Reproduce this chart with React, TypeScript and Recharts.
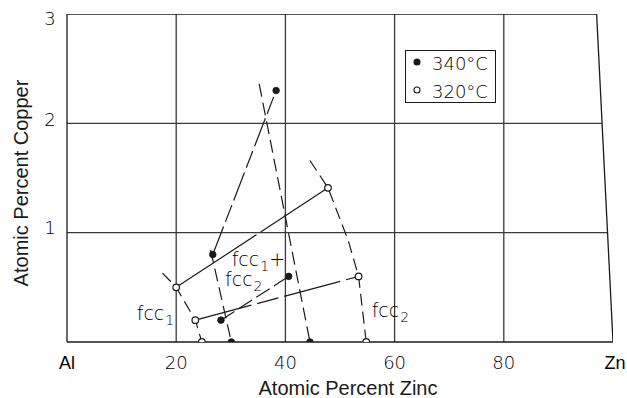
import React from 'react';
import {
  ComposedChart,
  Line,
  Scatter,
  XAxis,
  YAxis,
  ReferenceLine,
  ReferenceDot,
  Legend,
} from 'recharts';

// ---------- data ----------
const xTicks = [0, 20, 40, 60, 80, 100];
const xTickLabels = ['Al', '20', '40', '60', '80', 'Zn'];
const yTicks = [1, 2, 3];
const yTickLabels = ['1', '2', '3'];

const xGrid = [20, 40, 60, 80];
const yGridSegments = [
  { y: 1, xEnd: 99 },
  { y: 2, xEnd: 98 },
];
const topBorder = [{ x: 0, y: 3 }, { x: 97, y: 3 }];
const znBoundary = [{ x: 97, y: 3 }, { x: 100, y: 0 }];

// 340 C compositions (filled)
const filledPoints = [
  { x: 38.3, y: 2.3 },
  { x: 26.7, y: 0.8 },
  { x: 40.6, y: 0.6 },
  { x: 28.2, y: 0.2 },
  { x: 30.1, y: 0 },
  { x: 44.5, y: 0 },
];
// 320 C compositions (open)
const openPoints = [
  { x: 47.8, y: 1.41 },
  { x: 20.0, y: 0.5 },
  { x: 53.4, y: 0.6 },
  { x: 23.5, y: 0.2 },
  { x: 24.7, y: 0 },
  { x: 54.8, y: 0 },
];

// tie lines
const tieFilledUpper = [{ x: 26.7, y: 0.8 }, { x: 38.3, y: 2.3 }];
const tieFilledLower = [{ x: 28.2, y: 0.2 }, { x: 40.6, y: 0.6 }];
const tieOpenUpper = [{ x: 20.0, y: 0.5 }, { x: 47.8, y: 1.41 }];
const tieOpenLower = [{ x: 23.5, y: 0.2 }, { x: 53.4, y: 0.6 }];

// phase boundaries
const fcc1Filled = [{ x: 26.3, y: 0.84 }, { x: 30.1, y: 0 }];
const fcc2Filled = [{ x: 35.2, y: 2.36 }, { x: 44.5, y: 0 }];
const fcc1Open = [
  { x: 17.5, y: 0.63 },
  { x: 20.0, y: 0.5 },
  { x: 23.5, y: 0.2 },
  { x: 24.7, y: 0 },
];
const fcc2Open = [
  { x: 44.5, y: 1.66 },
  { x: 47.8, y: 1.41 },
  { x: 51.5, y: 0.93 },
  { x: 53.4, y: 0.6 },
  { x: 54.8, y: 0 },
];

const annotations = [
  { x: 30.16, y: 0.695, main: 'fcc', sub: '1', tail: '+' },
  { x: 28.94, y: 0.512, main: 'fcc', sub: '2', tail: '' },
  { x: 12.77, y: 0.201, main: 'fcc', sub: '1', tail: '' },
  { x: 55.8, y: 0.226, main: 'fcc', sub: '2', tail: '' },
];

const legendItems = [
  { label: '340°C', filled: true },
  { label: '320°C', filled: false },
];

// ---------- styles ----------
const W = 627;
const H = 398;
const INK = '#000';
const GRID = '#3a3a3a';
const LIGHT_FONT = '"DejaVu Sans", sans-serif';
const SANS = '"Liberation Sans", Arial, sans-serif';

const XTick = (props: any) => {
  const { x, y, payload } = props;
  const idx = xTicks.indexOf(payload.value);
  const label = xTickLabels[idx];
  const isEl = label === 'Al' || label === 'Zn';
  return (
    <text
      x={x + (label === 'Zn' ? 2 : 0)}
      y={y + 27}
      textAnchor="middle"
      fontFamily={isEl ? SANS : LIGHT_FONT}
      fontWeight={isEl ? 400 : 200}
      fontSize={18}
      fill={INK}
    >
      {label}
    </text>
  );
};

const yTickDy: Record<number, number> = { 1: 1, 2: 3, 3: 11 };
const YTick = (props: any) => {
  const { x, y, payload } = props;
  const idx = yTicks.indexOf(payload.value);
  return (
    <text
      x={x - 17}
      y={y + (yTickDy[payload.value] ?? 6)}
      textAnchor="middle"
      fontFamily={LIGHT_FONT}
      fontWeight={200}
      fontSize={18}
      fill={INK}
    >
      {yTickLabels[idx]}
    </text>
  );
};

const FilledDot = (props: any) => {
  const { cx, cy } = props;
  return <circle cx={cx} cy={cy} r={3.3} fill="#1a1a1a" stroke="#1a1a1a" strokeWidth={0.8} />;
};
const OpenDot = (props: any) => {
  const { cx, cy } = props;
  return <circle cx={cx} cy={cy} r={3.3} fill="#fff" stroke="#1a1a1a" strokeWidth={1.2} />;
};

const makeAnno = (a: { main: string; sub: string; tail: string }) => (p: any) => (
  <text x={p.cx} y={p.cy} fontFamily={LIGHT_FONT} fontWeight={200} fontSize={19} fill={INK}>
    <tspan>{a.main}</tspan>
    <tspan fontSize={14} dy={5} dx={1}>
      {a.sub}
    </tspan>
    {a.tail ? (
      <tspan dy={-5} dx={0}>
        {a.tail}
      </tspan>
    ) : null}
  </text>
);

const LegendBox = () => (
  <div
    style={{
      width: 91,
      height: 53,
      border: '1.3px solid #1a1a1a',
      boxSizing: 'border-box',
      background: '#fff',
    }}
  >
    <svg width={89} height={51} style={{ display: 'block' }}>
      {legendItems.map((it, i) => (
        <g key={it.label}>
          <circle
            cx={11}
            cy={11 + i * 28}
            r={3}
            fill={it.filled ? '#1a1a1a' : '#fff'}
            stroke="#1a1a1a"
            strokeWidth={1.1}
          />
          <text
            x={26}
            y={19 + i * 28}
            fontFamily={LIGHT_FONT}
            fontWeight={200}
            fontSize={18}
            fill={INK}
          >
            {it.label}
          </text>
        </g>
      ))}
    </svg>
  </div>
);

const lineCommon = {
  type: 'linear' as const,
  dataKey: 'y',
  stroke: '#1a1a1a',
  strokeWidth: 1.2,
  dot: false,
  activeDot: false,
  isAnimationActive: false,
  legendType: 'none' as const,
};

export default function App() {
  return (
    <div style={{ position: 'absolute', left: 0, top: 0, width: W, height: H, background: '#fff' }}>
      <ComposedChart width={W} height={H} margin={{ top: 14, right: 14, bottom: 0, left: 7 }}>
        <XAxis
          type="number"
          dataKey="x"
          domain={[0, 100]}
          ticks={xTicks}
          interval={0}
          height={56}
          axisLine={{ stroke: '#1a1a1a', strokeWidth: 1.3 }}
          tickLine={false}
          tickSize={0}
          tickMargin={0}
          tick={<XTick />}
          allowDataOverflow
          label={{
            content: () => (
              <text
                x={348}
                y={395}
                textAnchor="middle"
                fontFamily={SANS}
                fontSize={20}
                fill="#1a1a1a"
              >
                Atomic Percent Zinc
              </text>
            ),
          }}
        />
        <YAxis
          type="number"
          dataKey="y"
          domain={[0, 3]}
          ticks={yTicks}
          interval={0}
          width={60}
          axisLine={{ stroke: '#1a1a1a', strokeWidth: 1.3 }}
          tickLine={false}
          tickSize={0}
          tickMargin={0}
          tick={<YTick />}
          allowDataOverflow
          label={{
            content: () => (
              <text
                transform="translate(28,183) rotate(-90)"
                textAnchor="middle"
                fontFamily={SANS}
                fontSize={20}
                fill="#1a1a1a"
              >
                Atomic Percent Copper
              </text>
            ),
          }}
        />

        {xGrid.map((gx) => (
          <ReferenceLine key={`vx${gx}`} x={gx} stroke={GRID} strokeWidth={1.3} />
        ))}
        {yGridSegments.map((g) => (
          <ReferenceLine
            key={`hy${g.y}`}
            segment={[
              { x: 0, y: g.y },
              { x: g.xEnd, y: g.y },
            ]}
            stroke={GRID}
            strokeWidth={1.3}
          />
        ))}
        <Line {...lineCommon} data={topBorder} strokeWidth={1.3} />
        <Line {...lineCommon} data={znBoundary} strokeWidth={1.3} />

        <Line {...lineCommon} data={fcc1Filled} strokeDasharray="13 6" />
        <Line {...lineCommon} data={fcc2Filled} strokeDasharray="13 6" />
        <Line {...lineCommon} data={fcc1Open} strokeDasharray="12 6" />
        <Line {...lineCommon} data={fcc2Open} strokeDasharray="12 6" />

        <Line {...lineCommon} data={tieFilledUpper} strokeDasharray="30 5 18 5" />
        <Line {...lineCommon} data={tieFilledLower} strokeDasharray="16 5" />
        <Line {...lineCommon} data={tieOpenUpper} strokeDasharray="96 5" />
        <Line {...lineCommon} data={tieOpenLower} strokeDasharray="58 6 22 6" />

        <Scatter data={filledPoints} dataKey="y" shape={<FilledDot />} isAnimationActive={false} legendType="none" />
        <Scatter data={openPoints} dataKey="y" shape={<OpenDot />} isAnimationActive={false} legendType="none" />

        {annotations.map((a, i) => (
          <ReferenceDot
            key={`an${i}`}
            x={a.x}
            y={a.y}
            r={0}
            ifOverflow="visible"
            shape={makeAnno(a)}
          />
        ))}

        <Legend
          layout="horizontal"
          verticalAlign="middle"
          align="center"
          wrapperStyle={{ left: 405, top: 50, width: 91, height: 53 }}
          content={<LegendBox />}
        />
      </ComposedChart>
    </div>
  );
}
